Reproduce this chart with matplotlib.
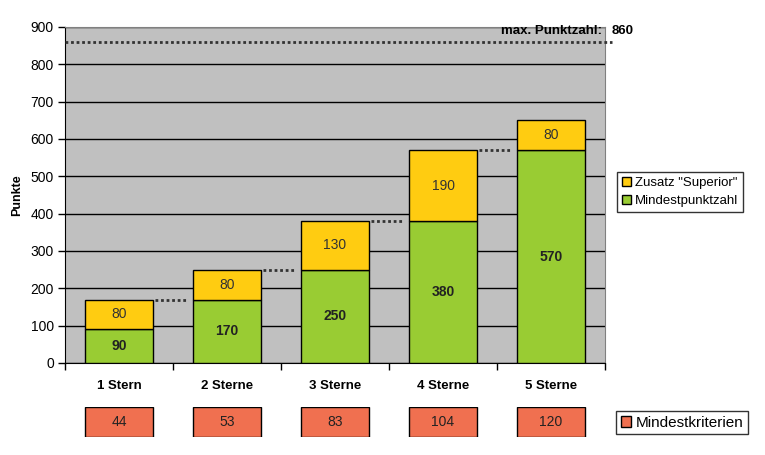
import matplotlib
matplotlib.use("Agg")
import matplotlib.pyplot as plt
from matplotlib.patches import Patch
import numpy as np

categories = ["1 Stern", "2 Sterne", "3 Sterne", "4 Sterne", "5 Sterne"]
mindest = [90, 170, 250, 380, 570]
superior = [80, 80, 130, 190, 80]
kriterien = [44, 53, 83, 104, 120]
max_punkte = 860

plt.rcParams['font.family'] = ['Liberation Sans', 'DejaVu Sans']

W, H = 765, 455
fig = plt.figure(figsize=(W/100, H/100), dpi=100)
ax = fig.add_axes([65/W, 1-363/H, 540/W, 336/H])

green = "#99CC33"
yellow = "#FFCC11"
orange = "#F07050"
gray = "#C0C0C0"
bw = 0.63
x = np.arange(len(categories))

ax.set_facecolor(gray)
ax.set_xlim(-0.5, len(categories)-0.5)
ax.set_ylim(0, 900)
ax.set_yticks(np.arange(0, 901, 100))
ax.yaxis.grid(True, color="black", lw=1)
ax.set_axisbelow(True)

ax.bar(x, mindest, width=bw, color=green, edgecolor="black", lw=1, zorder=3)
ax.bar(x, superior, bottom=mindest, width=bw, color=yellow, edgecolor="black", lw=1, zorder=3)

for i in range(len(categories)):
    ax.text(x[i], mindest[i]/2, str(mindest[i]), ha="center", va="center",
            fontsize=10, fontweight="bold", color="#222222", zorder=4)
    ax.text(x[i], mindest[i] + superior[i]/2, str(superior[i]), ha="center", va="center",
            fontsize=10, color="#333333", zorder=4)

# connectors
for i in range(len(categories)-1):
    top = mindest[i] + superior[i]
    ax.plot([x[i]+0.33, x[i]+0.62], [top, top], ls=(0, (1, 1)), lw=2, color="#333333", zorder=4)

ax.plot([-0.5, 4.565], [max_punkte, max_punkte], ls=(0, (1, 1)), lw=2, color="#333333",
        clip_on=False, zorder=5)
ax.text(4.47, 888, "max. Punktzahl:", ha="right", va="center", fontsize=9.5, fontweight="bold")
ax.text(4.56, 888, str(max_punkte), ha="left", va="center", fontsize=9.5, fontweight="bold")

for s in ["top", "right"]:
    ax.spines[s].set_color("#808080")
ax.spines["left"].set_color("black")
ax.spines["bottom"].set_color("black")
ax.tick_params(axis="y", length=5, width=1, labelsize=10, colors="black", pad=3)
ax.set_xticks(np.arange(-0.5, len(categories), 1.0), minor=False)
ax.set_xticklabels([])
ax.set_xticks(x, minor=True)
ax.set_xticklabels(categories, minor=True, fontsize=9.5, fontweight="bold")
ax.tick_params(axis="x", which="major", length=5, width=1)
ax.tick_params(axis="x", which="minor", length=0, pad=12)
ax.set_ylabel("Punkte", fontsize=9, fontweight="bold", labelpad=5)

leg = ax.legend(handles=[Patch(facecolor=yellow, edgecolor="black", label='Zusatz "Superior"'),
                         Patch(facecolor=green, edgecolor="black", label="Mindestpunktzahl")],
                loc="upper left", bbox_to_anchor=(617/W, 1-172/H), bbox_transform=fig.transFigure,
                frameon=True, fancybox=False, edgecolor="black", fontsize=9.5,
                handlelength=0.7, handleheight=0.7, handletextpad=0.3, borderpad=0.35,
                labelspacing=0.45, borderaxespad=0)
leg.get_frame().set_linewidth(1)

# Mindestkriterien row
ax2 = fig.add_axes([65/W, 1-437/H, 540/W, 30/H])
ax2.set_xlim(-0.5, len(categories)-0.5)
ax2.set_ylim(0, 1)
ax2.axis("off")
ax2.bar(x, [1]*len(kriterien), width=bw, color=orange, edgecolor="black", lw=1)
for i, k in enumerate(kriterien):
    ax2.text(x[i], 0.5, str(k), ha="center", va="center", fontsize=10, color="#222222")

leg2 = ax2.legend(handles=[Patch(facecolor=orange, edgecolor="black", label="Mindestkriterien")],
                  loc="upper left", bbox_to_anchor=(616/W, 1-411/H), bbox_transform=fig.transFigure,
                  frameon=True, fancybox=False, edgecolor="black", fontsize=11,
                  handlelength=0.7, handleheight=0.7, handletextpad=0.3, borderpad=0.3,
                  borderaxespad=0)
leg2.get_frame().set_linewidth(1)

fig.savefig("out.png", dpi=100, facecolor="white")
